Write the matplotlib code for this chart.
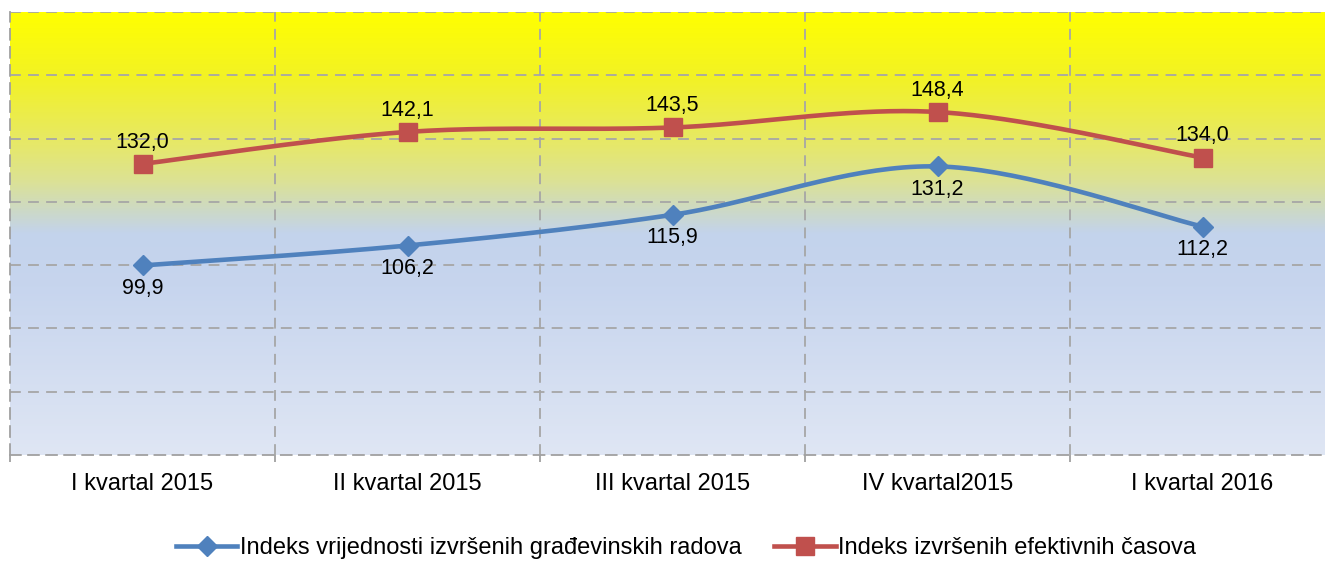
import matplotlib.pyplot as plt
import numpy as np
from matplotlib.colors import LinearSegmentedColormap

categories = ['I kvartal 2015', 'II kvartal 2015', 'III kvartal 2015', 'IV kvartal2015', 'I kvartal 2016']
vrijednost = [99.9, 106.2, 115.9, 131.2, 112.2]
casovi = [132.0, 142.1, 143.5, 148.4, 134.0]
label_vrijednost = 'Indeks vrijednosti izvršenih građevinskih radova'
label_casovi = 'Indeks izvršenih efektivnih časova'

plt.rcParams['font.family'] = ['Liberation Sans', 'DejaVu Sans']


def smooth(xs, ys, n=40):
    # excel-like smoothed line: cubic bezier with catmull-rom control points
    p = np.column_stack([xs, ys]).astype(float)
    pts = []
    for i in range(len(p) - 1):
        p0 = p[i - 1] if i > 0 else p[i]
        p3 = p[i + 2] if i + 2 < len(p) else p[i + 1]
        c1 = p[i] + (p[i + 1] - p0) / 6
        c2 = p[i + 1] - (p3 - p[i]) / 6
        t = np.linspace(0, 1, n)[:, None]
        seg = ((1 - t) ** 3) * p[i] + 3 * ((1 - t) ** 2) * t * c1 + 3 * (1 - t) * t ** 2 * c2 + t ** 3 * p[i + 1]
        pts.append(seg if i == 0 else seg[1:])
    pts = np.vstack(pts)
    return pts[:, 0], pts[:, 1]


fig = plt.figure(figsize=(13.25, 5.61), dpi=100)
# plot area runs slightly past the right edge of the image, as in the original
ax = fig.add_axes([10 / 1325, 1 - 455 / 561, 1325 / 1325, (455 - 12) / 561])

x = np.arange(len(categories))
ax.set_xlim(-0.5, len(categories) - 0.5)
ax.set_ylim(40, 180)

# background gradient
cmap = LinearSegmentedColormap.from_list('bg', [
    (0.0, '#FFFF00'), (0.15, '#F2F226'), (0.3, '#E6E86A'), (0.38, '#DCE294'),
    (0.45, '#CCD9C8'), (0.5, '#C3D3EC'), (0.62, '#C7D5EE'), (1.0, '#DFE6F4')])
grad = np.linspace(0, 1, 256)[:, None]
ax.imshow(grad, cmap=cmap, aspect='auto', extent=[-0.5, len(categories) - 0.5, 40, 180],
          origin='upper', zorder=0)

# grid
for yv in range(60, 181, 20):
    ax.axhline(yv, color='#A6A6A6', lw=1.3, ls=(0, (6, 4)), zorder=1)
for xv in np.arange(0.5, len(categories) - 0.5, 1):
    ax.axvline(xv, color='#A6A6A6', lw=1.3, ls=(0, (6, 4)), zorder=1)

for s in ['top', 'right']:
    ax.spines[s].set_visible(False)
for s in ['left', 'bottom']:
    ax.spines[s].set_color('#A0A0A0')
    ax.spines[s].set_linewidth(1.3)
    ax.spines[s].set_linestyle((0, (6, 4)))

ax.set_yticks([])
ax.set_xticks(np.arange(-0.5, len(categories) - 0.5 + 0.01, 1), minor=False)
ax.set_xticklabels([])
ax.tick_params(axis='x', length=5, color='#A0A0A0', width=1.3)
ax.set_xticks(x, minor=True)
ax.set_xticklabels(categories, minor=True, fontsize=17)
ax.tick_params(axis='x', which='minor', length=0, pad=13)

blue = '#4F81BD'
red = '#C0504D'

sx, sy = smooth(x, vrijednost)
ax.plot(sx, sy, color=blue, lw=3.3, zorder=3, solid_capstyle='round')
ax.plot(x, vrijednost, ls='none', marker='D', ms=10, color=blue, zorder=4)

sx, sy = smooth(x, casovi)
ax.plot(sx, sy, color=red, lw=3.3, zorder=3, solid_capstyle='round')
ax.plot(x, casovi, ls='none', marker='s', ms=13, color=red, zorder=4)

for xi, v in zip(x, vrijednost):
    ax.annotate(f'{v:.1f}'.replace('.', ','), (xi, v), xytext=(0, -9), textcoords='offset points',
                ha='center', va='top', fontsize=15.5, zorder=5)
for xi, v in zip(x, casovi):
    ax.annotate(f'{v:.1f}'.replace('.', ','), (xi, v), xytext=(0, 8), textcoords='offset points',
                ha='center', va='bottom', fontsize=15.5, zorder=5)

h1, = ax.plot([], [], color=blue, lw=3.3, marker='D', ms=10)
h2, = ax.plot([], [], color=red, lw=3.3, marker='s', ms=13)
fig.legend([h1, h2], [label_vrijednost, label_casovi], loc='center', bbox_to_anchor=(686 / 1325, 1 - 548 / 561),
           ncol=2, frameon=False, fontsize=17, handlelength=2.6, handletextpad=0.1, columnspacing=1.4)

fig.savefig('out.png', dpi=100)
